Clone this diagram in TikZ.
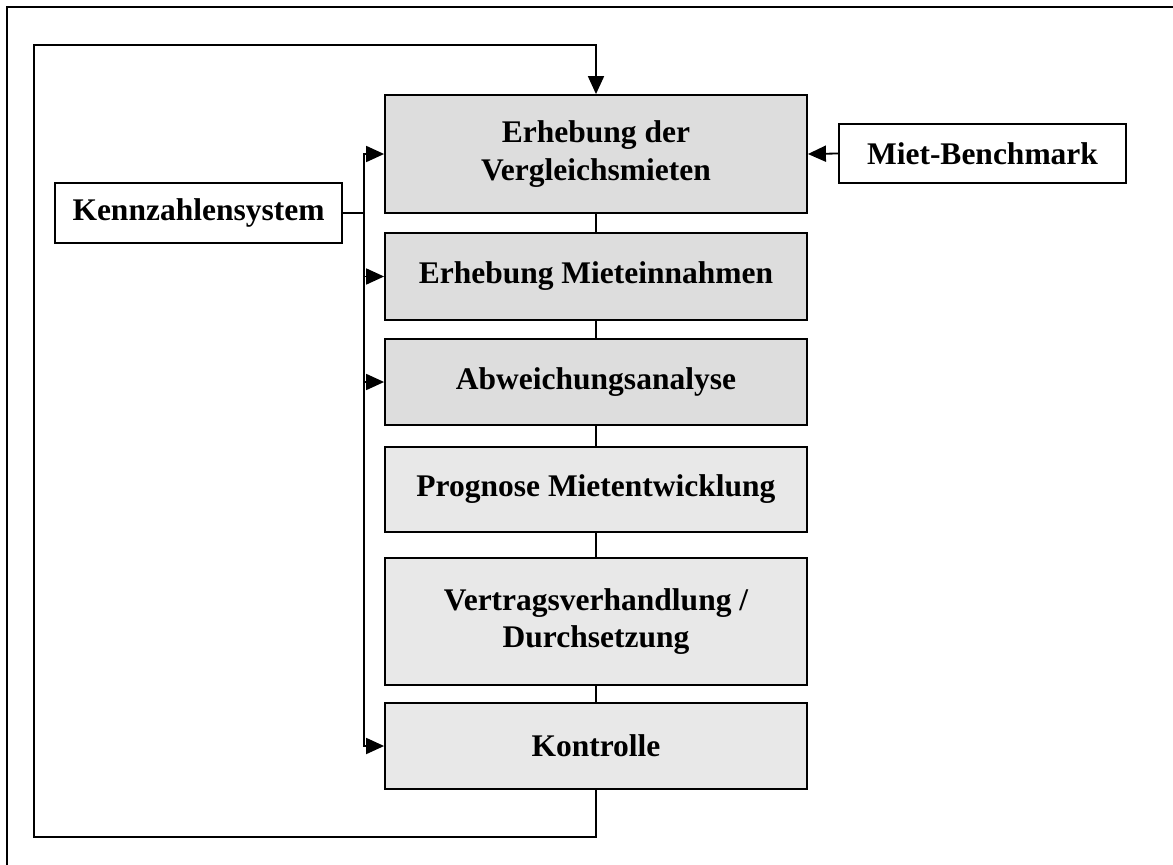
\documentclass[tikz,border=0pt]{standalone}
\usepackage{fontspec}
\setmainfont{Liberation Serif}
\usetikzlibrary{arrows.meta}

\definecolor{stepdark}{HTML}{DDDDDD}
\definecolor{steplight}{HTML}{E8E8E8}

\begin{document}
\begin{tikzpicture}[x=1pt,y=-1pt,
  every node/.style={font=\bfseries\fontsize{31.5}{37.5}\selectfont, align=center, inner sep=0pt},
  box/.style={draw, line width=1.8pt, minimum width=422pt},
  sidebox/.style={draw, line width=1.8pt, fill=white, minimum width=287pt, minimum height=60pt},
  arr/.style={-{Triangle[length=18pt,width=16pt]}},
  line width=1.8pt]
\useasboundingbox (0,0) rectangle (1173,865);

% frame, only top and left edge inside the page
\draw (7,865) -- (7,7) -- (1173,7);

% process steps
\node[box, fill=stepdark, minimum height=118pt] (erhebung) at (596,154) {Erhebung der\\Vergleichsmieten};
\node[box, fill=stepdark, minimum height=87pt] (einnahmen) at (596,276.5) {Erhebung Mieteinnahmen};
\node[box, fill=stepdark, minimum height=86pt] (abweichung) at (596,382) {Abweichungsanalyse};
\node[box, fill=steplight, minimum height=85pt] (prognose) at (596,489.5) {Prognose Mietentwicklung};
\node[box, fill=steplight, minimum height=127pt] (vertrag) at (596,621.5) {Vertragsverhandlung /\\Durchsetzung};
\node[box, fill=steplight, minimum height=86pt] (kontrolle) at (596,746) {Kontrolle};

% inputs
\node[sidebox] (kennzahlen) at (198.5,213) {Kennzahlensystem};
\node[sidebox, minimum height=59pt] (benchmark) at (982.5,153.5) {Miet-Benchmark};

\coordinate (bus) at (364,213);
\coordinate (loopbl) at (34,837);
\coordinate (looptl) at (34,45);

\draw (erhebung) -- (einnahmen);
\draw (einnahmen) -- (abweichung);
\draw (abweichung) -- (prognose);
\draw (prognose) -- (vertrag);
\draw (vertrag) -- (kontrolle);

% feedback from Kontrolle back to the start
\draw[arr] (kontrolle.south) |- (loopbl) -- (looptl) -| (erhebung.north);

\draw (kennzahlen.east) -- (bus);
\draw[arr] (bus) |- (erhebung.west);
\draw[arr] (bus) |- (einnahmen.west);
\draw[arr] (bus) |- (abweichung.west);
\draw[arr] (bus) |- (kontrolle.west);

\draw[arr] (benchmark.west) -- (erhebung.east);
\end{tikzpicture}
\end{document}
